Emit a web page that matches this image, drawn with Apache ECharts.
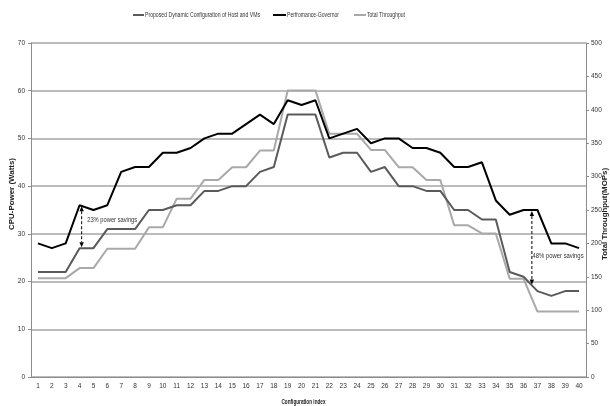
<!DOCTYPE html>
<html>
<head>
<meta charset="utf-8">
<script src="https://cdn.jsdelivr.net/npm/echarts@6/dist/echarts.min.js"></script>
<style>
html,body{margin:0;padding:0;background:#fff;}
#chart{width:610px;height:406px;}
</style>
</head>
<body>
<div id="chart"></div>
<script>
// Configuration indices 1..40
const categories = Array.from({length: 40}, (_, i) => String(i + 1));

// CPU power (Watts), proposed dynamic configuration
const proposedPower = [22,22,22,27,27,31,31,31,35,35,36,36,39,39,40,40,43,44,55,55,
                       55,46,47,47,43,44,40,40,39,39,35,35,33,33,22,21,18,17,18,18];

// CPU power (Watts), performance governor
const governorPower = [28,27,28,36,35,36,43,44,44,47,47,48,50,51,51,53,55,53,58,57,
                       58,50,51,52,49,50,50,48,48,47,44,44,45,37,34,35,35,28,28,27];

// Total throughput (MOPs), right axis
const throughput = [148,148,148,163,163,192,192,192,224,224,267,267,295,295,314,314,339,339,429,429,
                    429,364,364,364,340,340,314,314,295,295,227,227,215,215,147,147,98,98,98,98];

const seriesNames = ['Proposed Dynamic Configuration of Host and VMs', 'Perfromance-Governor', 'Total Throughput'];
const seriesColors = ['#5a5a5a', '#000000', '#a9a9a9'];

const FONT = "'Liberation Sans', Arial, sans-serif";

const chart = echarts.init(document.getElementById('chart'), null, {renderer: 'canvas'});

chart.setOption({
  animation: false,
  backgroundColor: '#ffffff',
  textStyle: {fontFamily: FONT},
  grid: {left: 31, right: 24, top: 43, bottom: 29, containLabel: false, outerBoundsMode: 'none'},
  xAxis: {
    type: 'category',
    data: categories,
    boundaryGap: true,
    axisLine: {lineStyle: {color: '#8c8c8c', width: 1}},
    axisTick: {show: false},
    axisLabel: {fontSize: 6.5, color: '#333', margin: 6, interval: 0, fontFamily: FONT}
  },
  yAxis: [
    {
      type: 'value',
      min: 0, max: 70, interval: 10,
      axisLine: {show: true, lineStyle: {color: '#8c8c8c', width: 1}},
      axisTick: {show: true, length: 3, lineStyle: {color: '#8c8c8c'}},
      axisLabel: {fontSize: 6.5, color: '#333', margin: 6, fontFamily: FONT},
      splitLine: {show: true, lineStyle: {color: '#a6a6a6', width: 1.5}}
    },
    {
      type: 'value',
      min: 0, max: 500, interval: 50,
      axisLine: {show: true, lineStyle: {color: '#8c8c8c', width: 1}},
      axisTick: {show: true, length: 3, lineStyle: {color: '#8c8c8c'}},
      axisLabel: {fontSize: 6.5, color: '#333', margin: 5, fontFamily: FONT},
      splitLine: {show: false}
    }
  ],
  series: [
    {
      name: seriesNames[0], type: 'line', yAxisIndex: 0, data: proposedPower,
      symbol: 'none', color: seriesColors[0], lineStyle: {width: 2, color: seriesColors[0]}, z: 3
    },
    {
      name: seriesNames[1], type: 'line', yAxisIndex: 0, data: governorPower,
      symbol: 'none', color: seriesColors[1], lineStyle: {width: 2, color: seriesColors[1]}, z: 4
    },
    {
      name: seriesNames[2], type: 'line', yAxisIndex: 1, data: throughput,
      symbol: 'none', color: seriesColors[2], lineStyle: {width: 2, color: seriesColors[2]}, z: 2
    }
  ]
});

// Narrow text: horizontally squeezed to a given width
const measureCtx = document.createElement('canvas').getContext('2d');
function narrowText(text, opts) {
  const size = opts.size || 8, weight = opts.bold ? 'bold' : 'normal';
  measureCtx.font = weight + ' ' + size + 'px ' + FONT;
  const w = measureCtx.measureText(text).width;
  const sx = opts.width / w;
  return {
    type: 'text', x: opts.x, y: opts.y, rotation: opts.rotation || 0,
    scaleX: opts.rotation ? 1 : sx, scaleY: opts.rotation ? 1 : 1,
    style: {text: text, fill: opts.color || '#333', fontSize: size, fontWeight: weight, fontFamily: FONT,
            align: opts.align || 'left', verticalAlign: 'middle'},
    z: 11
  };
}
// Rotated titles: squeeze along the text direction
function rotatedTitle(text, opts) {
  measureCtx.font = 'bold ' + opts.size + 'px ' + FONT;
  const w = measureCtx.measureText(text).width;
  return {
    type: 'text', x: opts.x, y: opts.y, rotation: Math.PI / 2,
    scaleX: opts.length / w,
    style: {text: text, fill: '#222', fontSize: opts.size, fontWeight: 'bold', fontFamily: FONT,
            align: 'center', verticalAlign: 'middle'},
    z: 11
  };
}

// Value-space to pixel helper (fractional category positions interpolated)
function pt(idx, val) {
  const i0 = Math.floor(idx), f = idx - i0;
  const a = chart.convertToPixel({xAxisIndex: 0, yAxisIndex: 0}, [i0, val]);
  if (f === 0) return a;
  const b = chart.convertToPixel({xAxisIndex: 0, yAxisIndex: 0}, [i0 + 1, val]);
  return [a[0] + (b[0] - a[0]) * f, a[1]];
}

// Dashed double-headed arrow between the two power curves
function arrow(idx, top, bottom) {
  const p1 = pt(idx, top), p2 = pt(idx, bottom);
  const x = p1[0], y1 = p1[1] + 1, y2 = p2[1] - 1;
  const h = 5, w = 2.2;
  return [
    {type: 'line', shape: {x1: x, y1: y1 + h, x2: x, y2: y2 - h},
     style: {stroke: '#000', lineWidth: 1, lineDash: [3, 2]}, z: 10},
    {type: 'polygon', shape: {points: [[x, y1], [x - w, y1 + h], [x + w, y1 + h]]},
     style: {fill: '#000'}, z: 10},
    {type: 'polygon', shape: {points: [[x, y2], [x - w, y2 - h], [x + w, y2 - h]]},
     style: {fill: '#000'}, z: 10}
  ];
}

function note(idx, val, text, width) {
  const p = pt(idx, val);
  return narrowText(text, {x: p[0], y: p[1], width: width, size: 8});
}

// Legend row
const legendItems = [
  {icon: [133, 144], text: [145, 115]},
  {icon: [273, 286], text: [287, 52]},
  {icon: [354, 366], text: [367, 38]}
];
const legendGraphics = [];
legendItems.forEach((it, i) => {
  legendGraphics.push({type: 'rect', shape: {x: it.icon[0], y: 14, width: it.icon[1] - it.icon[0], height: 2},
                       style: {fill: seriesColors[i]}, z: 11});
  legendGraphics.push(narrowText(seriesNames[i], {x: it.text[0], y: 15, width: it.text[1], size: 7.5, color: '#333'}));
});

const graphics = []
  .concat(legendGraphics)
  .concat(arrow(3.15, 36, 27))
  .concat([note(3.55, 32.9, '23% power savings', 50)])
  .concat(arrow(35.6, 35, 19.2))
  .concat([note(35.65, 25.3, '48% power savings', 51)])
  .concat([narrowText('Configuration index', {x: 303.5, y: 402, width: 44, size: 7, bold: true, align: 'center', color: '#222'})])
  .concat([rotatedTitle('CPU-Power (Watts)', {x: 11.5, y: 194, length: 72, size: 7.5})])
  .concat([rotatedTitle('Total Throughput(MOPs)', {x: 604.5, y: 214, length: 92, size: 7.5})]);

chart.setOption({graphic: graphics});
</script>
</body>
</html>
